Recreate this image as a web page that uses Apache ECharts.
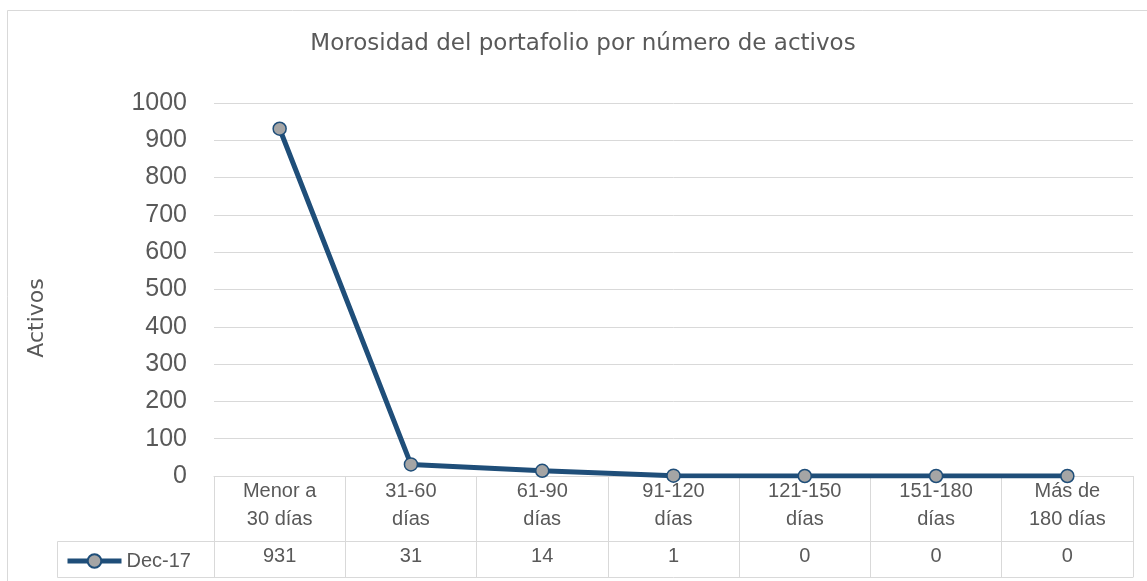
<!DOCTYPE html>
<html>
<head>
<meta charset="utf-8">
<script src="https://cdn.jsdelivr.net/npm/echarts@6/dist/echarts.min.js"></script>
<style>
  html, body { margin: 0; padding: 0; background: #fff; }
  #grafico { width: 1147px; height: 581px; }
</style>
</head>
<body>
<div id="grafico"></div>
<script>
// ==============================================
// DATOS
// ==============================================

const categorias = ['Menor a\n30 días', '31-60\ndías', '61-90\ndías', '91-120\ndías', '121-150\ndías', '151-180\ndías', 'Más de\n180 días'];
const activos = [931, 31, 14, 1, 0, 0, 0];
const nombreSerie = 'Dec-17';
const ticksY = [0, 100, 200, 300, 400, 500, 600, 700, 800, 900, 1000];

// ==============================================
// GRÁFICO
// ==============================================

const gris = '#595959';
const borde = '#d9d9d9';
const azul = '#1f4e79';
const fuente = 'Liberation Sans';

const chart = echarts.init(document.getElementById('grafico'));

const option = {
    animation: false,
    backgroundColor: '#fff',
    title: {
        text: 'Morosidad del portafolio por número de activos',
        left: 578,
        top: 28,
        textAlign: 'center',
        textStyle: { color: gris, fontSize: 23, fontWeight: 'normal', fontFamily: 'DejaVu Sans' }
    },
    legend: {
        data: [nombreSerie],
        left: 60,
        top: 546,
        itemWidth: 54,
        itemHeight: 17,
        itemGap: 3,
        lineStyle: { width: 5 },
        textStyle: { color: gris, fontSize: 20, fontFamily: fuente }
    },
    grid: { left: 214, right: 14, top: 103, bottom: 105, containLabel: false },
    xAxis: [
        {
            type: 'category',
            data: categorias,
            position: 'bottom',
            boundaryGap: true,
            axisLine: { show: true, lineStyle: { color: borde, width: 1 } },
            axisTick: { show: true, interval: 0, length: 101, lineStyle: { color: borde, width: 1 } },
            axisLabel: { interval: 0, margin: 1, color: gris, fontSize: 20, lineHeight: 28, fontFamily: fuente },
            splitLine: { show: false }
        },
        {
            type: 'category',
            data: activos.map(String),
            position: 'bottom',
            offset: 65,
            axisLine: { show: true, lineStyle: { color: borde, width: 1 } },
            axisTick: { show: false },
            axisLabel: { interval: 0, margin: 1, color: gris, fontSize: 20, lineHeight: 28, fontFamily: fuente },
            splitLine: { show: false }
        },
        {
            type: 'category',
            data: categorias,
            position: 'bottom',
            offset: 101,
            axisLine: { show: true, lineStyle: { color: borde, width: 1 } },
            axisTick: { show: false },
            axisLabel: { show: false },
            splitLine: { show: false }
        }
    ],
    yAxis: {
        type: 'value',
        min: ticksY[0],
        max: ticksY[ticksY.length - 1],
        interval: ticksY[1] - ticksY[0],
        axisLine: { show: false },
        axisTick: { show: false },
        axisLabel: {
            margin: 27,
            color: gris,
            fontSize: 25,
            fontFamily: fuente,
            formatter: function(v) { return String(v); }
        },
        splitLine: { lineStyle: { color: borde, width: 1 } }
    },
    series: [{
        name: nombreSerie,
        type: 'line',
        xAxisIndex: 0,
        data: activos,
        symbol: 'circle',
        symbolSize: 13,
        lineStyle: { color: azul, width: 5 },
        itemStyle: { color: '#a5a5a5', borderColor: azul, borderWidth: 1.5 },
        z: 5
    }],
    graphic: [
        {
            type: 'rect',
            shape: { x: 7.5, y: 10.5, width: 1170, height: 600 },
            style: { fill: 'none', stroke: borde, lineWidth: 1 },
            silent: true,
            z: -10
        },
        {
            type: 'polyline',
            shape: { points: [[214, 541.5], [57.5, 541.5], [57.5, 577.5], [214, 577.5]] },
            style: { fill: 'none', stroke: borde, lineWidth: 1 },
            silent: true
        },
        {
            type: 'text',
            x: 37,
            y: 318,
            rotation: Math.PI / 2,
            style: {
                text: 'Activos',
                fill: gris,
                fontSize: 22,
                fontFamily: 'DejaVu Sans',
                align: 'center',
                verticalAlign: 'middle'
            }
        }
    ]
};

chart.setOption(option);

window.addEventListener('resize', function() {
    chart.resize();
});
</script>
</body>
</html>
